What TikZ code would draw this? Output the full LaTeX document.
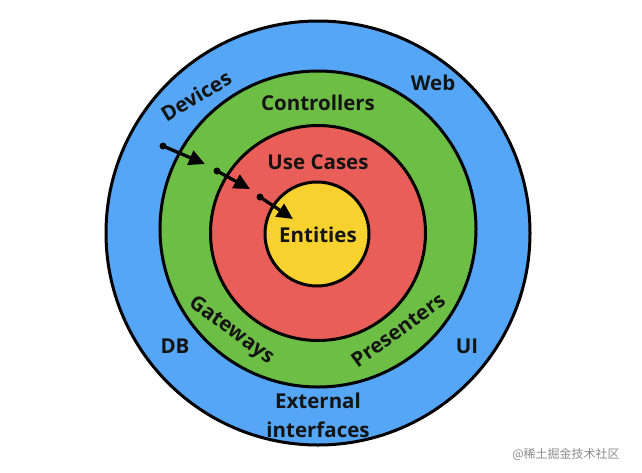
\documentclass[tikz,border=0pt]{standalone}
\usepackage{fontspec}
\setmainfont{Open Sans}
\newfontfamily\cjk{Noto Sans CJK SC}
\usetikzlibrary{arrows.meta}
\definecolor{cblue}{HTML}{55A6F6}
\definecolor{cgreen}{HTML}{6DBE45}
\definecolor{cred}{HTML}{EA5E59}
\definecolor{cyellow}{HTML}{F7D22E}
\tikzset{
  ring/.style={circle, draw=black, line width=3pt, inner sep=0pt},
  lbl/.style={font=\fontsize{20.5}{22}\selectfont\bfseries, text=black!92, inner sep=0pt},
  dep/.style={line width=3.3pt, -{Triangle[length=16pt,width=15pt]}},
  dot/.style={circle, fill=black, inner sep=0pt, minimum size=7pt}
}
\begin{document}
\begin{tikzpicture}[x=1pt,y=-1pt]
\useasboundingbox (0,0) rectangle (642,472);
\fill[white] (0,0) rectangle (642,472);
\node[ring, fill=cblue, minimum size=424pt] (outer) at (318,233) {};
\node[ring, fill=cgreen, minimum size=316pt] (green) at (318,229) {};
\node[ring, fill=cred, minimum size=215pt] (red) at (318,233) {};
\node[ring, fill=cyellow, minimum size=104pt] (yellow) at (317,234) {};

\node[lbl] (ent) at (318,235) {Entities};
\node[lbl] (uc) at (318,162) {Use Cases};
\node[lbl] (ctrl) at (318,103) {Controllers};
\node[lbl, rotate=31] (dev) at (196,96) {Devices};
\node[lbl] (web) at (433,83) {Web};
\node[lbl, rotate=-36] (gw) at (231,331) {Gateways};
\node[lbl, rotate=36] (pres) at (398,330) {Presenters};
\node[lbl] (db) at (175,346) {DB};
\node[lbl] (ui) at (467,346) {UI};
\node[lbl] (ext) at (318,401) {External};
\node[lbl] (intf) at (318,430) {interfaces};
\node[font=\cjk\fontsize{12}{14}\selectfont, text=black!45, inner sep=0pt] (wm) at (566,454) {@稀土掘金技术社区};

\node[dot] (s1) at (163,146) {};
\coordinate (e1) at (205,164);
\node[dot] (s2) at (217,171) {};
\coordinate (e2) at (250,189);
\node[dot] (s3) at (260,197) {};
\coordinate (e3) at (293,219);
\draw[dep] (s1.center) -- (e1);
\draw[dep] (s2.center) -- (e2);
\draw[dep] (s3.center) -- (e3);
\end{tikzpicture}
\end{document}
